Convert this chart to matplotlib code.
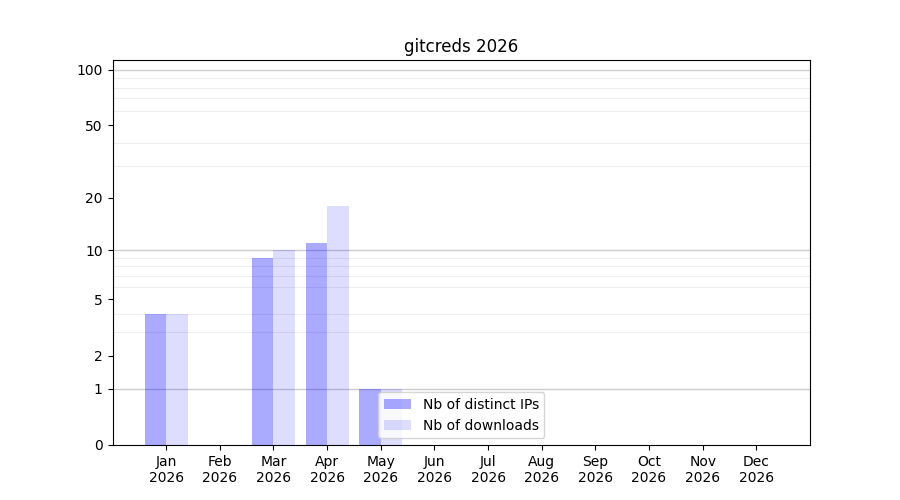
import numpy as np
import matplotlib
matplotlib.use('Agg')
import matplotlib.pyplot as plt

# Monthly stats for the package
months = ['Jan', 'Feb', 'Mar', 'Apr', 'May', 'Jun',
          'Jul', 'Aug', 'Sep', 'Oct', 'Nov', 'Dec']
year = 2026
distinct_ips = [4, 0, 9, 11, 1, 0, 0, 0, 0, 0, 0, 0]
downloads = [4, 0, 10, 18, 1, 0, 0, 0, 0, 0, 0, 0]
ytick_values = [0, 1, 2, 5, 10, 20, 50, 100]


def forward(y):
    return np.log10(1 + np.clip(y, 0, None))


def inverse(y):
    return 10 ** np.asarray(y) - 1


x = np.arange(len(months))

fig, ax = plt.subplots(figsize=(9, 5), dpi=100)
ax.bar(x, distinct_ips, width=-0.4, align='edge', color='blue', alpha=1/3,
       label='Nb of distinct IPs')
ax.bar(x, downloads, width=0.4, align='edge', color='blue', alpha=0.133,
       label='Nb of downloads')

ax.set_yscale('function', functions=(forward, inverse))
ax.set_ylim(0, 113)
ax.set_xlim(-1, 12)

ax.set_yticks(ytick_values)
ax.set_yticklabels([str(v) for v in ytick_values])
minor = [v for v in range(2, 10)] + [v for v in range(20, 100, 10)]
ax.set_yticks(minor, minor=True)
ax.tick_params(axis='y', which='minor', length=0)
ax.grid(axis='y', which='minor', color='#eeeeee', linewidth=0.8)
for v in [1, 10, 100]:
    ax.axhline(v, color='#cccccc', linewidth=1, zorder=0.5)
ax.set_axisbelow(True)

ax.set_xticks(x)
ax.set_xticklabels([f'{m}\n{year}' for m in months])
ax.set_title(f'gitcreds {year}')
ax.legend(loc='lower center')

plt.savefig('out.png')
